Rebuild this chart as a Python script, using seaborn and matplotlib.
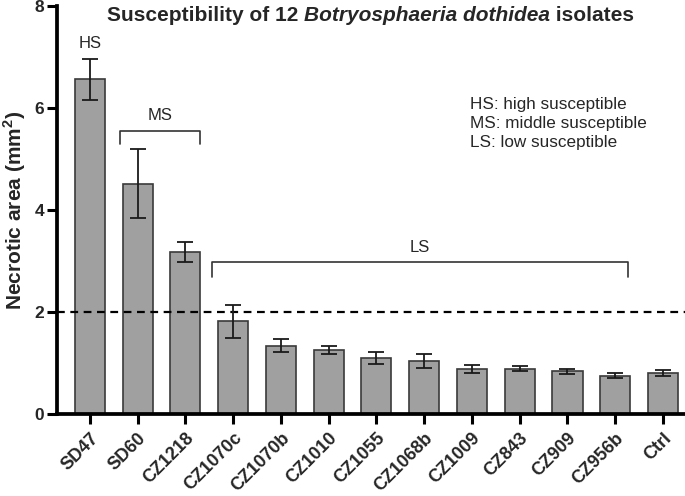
import matplotlib
matplotlib.use("Agg")
import matplotlib.pyplot as plt
import seaborn as sns
import pandas as pd

isolates = ["SD47", "SD60", "CZ1218", "CZ1070c", "CZ1070b", "CZ1010", "CZ1055",
            "CZ1068b", "CZ1009", "CZ843", "CZ909", "CZ956b", "Ctrl"]
means = [6.56, 4.52, 3.18, 1.82, 1.34, 1.26, 1.10, 1.04, 0.88, 0.89, 0.84, 0.75, 0.80]
sds = [0.40, 0.68, 0.20, 0.32, 0.13, 0.08, 0.11, 0.14, 0.08, 0.05, 0.05, 0.05, 0.06]
threshold = 2.0
legend_lines = ["HS: high susceptible", "MS: middle susceptible", "LS: low susceptible"]

sns.set_theme(style="ticks")
plt.rcParams['font.family'] = ['Liberation Sans', 'DejaVu Sans']
plt.rcParams['mathtext.fontset'] = 'custom'
plt.rcParams['mathtext.rm'] = 'Liberation Sans'
plt.rcParams['mathtext.bf'] = 'Liberation Sans:bold'

df = pd.DataFrame({"isolate": isolates, "area": means})

fig = plt.figure(figsize=(6.85, 4.96), dpi=100)
ax = fig.add_axes([0.083, 0.165, 0.917, 0.823])

sns.barplot(data=df, x="isolate", y="area", ax=ax, color="#a0a0a0",
            saturation=1, width=0.63, edgecolor="#3a3a3a", linewidth=1.2)
ax.errorbar(range(len(isolates)), means, yerr=sds, fmt="none", ecolor="#1a1a1a",
            elinewidth=1.3, capsize=5.8, capthick=1.3, zorder=5)

ax.axhline(threshold, color="black", lw=1.6, ls=(0, (3.5, 2.5)), zorder=4)

ax.set_xlim(-0.69, 12.46)
ax.set_ylim(0, 8)
ax.set_yticks([0, 2, 4, 6, 8])
ax.set_xlabel("")
ax.set_ylabel(r"Necrotic area (mm$^{\mathbf{2}}$)", fontsize=15, fontweight="bold", labelpad=5)
for s in ["top", "right"]:
    ax.spines[s].set_visible(False)
for s in ["left", "bottom"]:
    ax.spines[s].set_linewidth(2.7)
    ax.spines[s].set_color("black")
ax.tick_params(axis="both", width=2.2, length=7, color="black")
ax.tick_params(axis="y", labelsize=12.5, pad=2)
ax.tick_params(axis="x", labelsize=13, pad=4)
for lab in ax.get_yticklabels():
    lab.set_fontweight("bold")
for lab in ax.get_xticklabels():
    lab.set_fontweight("bold")
    lab.set_rotation(45)
    lab.set_ha("right")
    lab.set_rotation_mode("anchor")

# group annotations
ax.text(0, 7.12, "HS", ha="center", va="bottom", fontsize=12)
ax.plot([0.63, 0.63, 2.30, 2.30], [5.29, 5.55, 5.55, 5.29], color="#333333", lw=1.2)
ax.text(1.465, 5.70, "MS", ha="center", va="bottom", fontsize=12)
ax.plot([2.55, 2.55, 11.27, 11.27], [2.69, 2.98, 2.98, 2.69], color="#333333", lw=1.2)
ax.text(6.91, 3.12, "LS", ha="center", va="bottom", fontsize=12)

for i, line in enumerate(legend_lines):
    fig.text(0.686, 0.780 - i * 0.0385, line, fontsize=12.3, va="baseline", ha="left")

# title with italic species name
t1 = fig.text(0.156, 0.958, "Susceptibility of 12 ", fontsize=15, fontweight="bold",
              va="baseline", ha="left")
t2 = ax.annotate("Botryosphaeria dothidea", xy=(1, 0), xycoords=t1, va="bottom", ha="left",
                 fontsize=15, fontweight="bold", style="italic", annotation_clip=False)
t3 = ax.annotate(" isolates", xy=(1, 0), xycoords=t2, va="bottom", ha="left",
                 fontsize=15, fontweight="bold", annotation_clip=False)

fig.savefig("out.png", dpi=100)
